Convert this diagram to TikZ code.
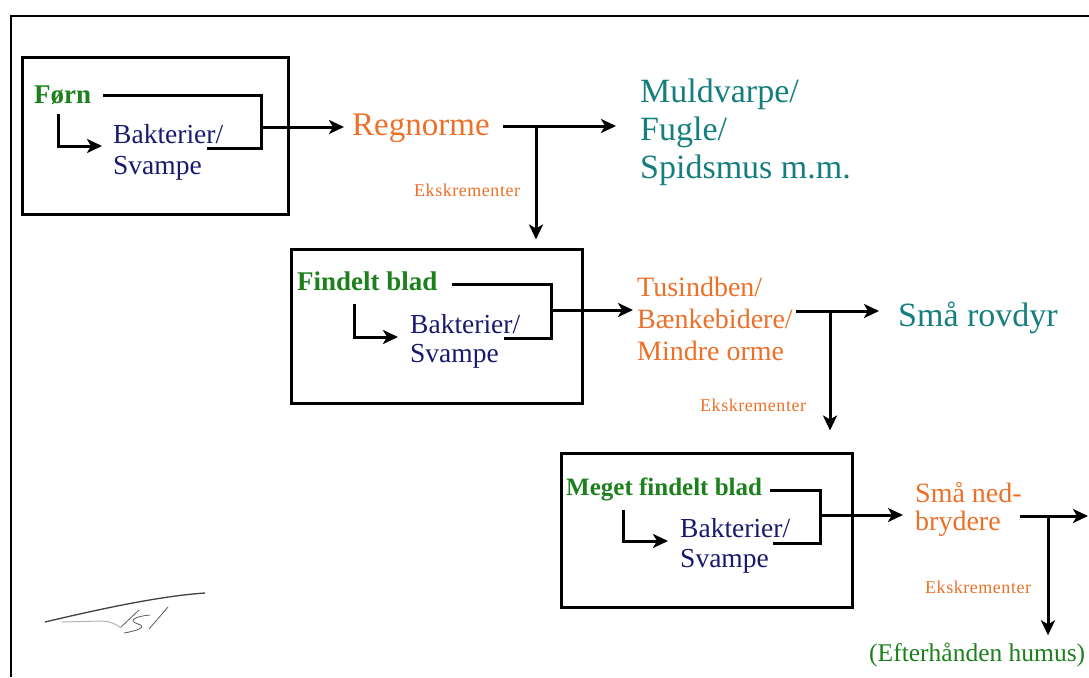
\documentclass[tikz,border=0pt]{standalone}
\usepackage{fontspec}
\setmainfont{Liberation Serif}
\usetikzlibrary{arrows.meta}
\definecolor{cgreen}{RGB}{28,128,28}
\definecolor{cnavy}{RGB}{25,25,110}
\definecolor{corange}{RGB}{236,112,40}
\definecolor{cteal}{RGB}{22,126,126}
\newcommand{\fs}[1]{\fontsize{#1}{#1}\selectfont}
\tikzset{
  lbl/.style={inner sep=0pt, anchor=base west},
  grn/.style={lbl, text=cgreen, font=\fs{27}\bfseries},
  nav/.style={lbl, text=cnavy, font=\fs{27.5}},
  org/.style={lbl, text=corange, font=\fs{28}},
  tea/.style={lbl, text=cteal, font=\fs{34}},
  eks/.style={lbl, text=corange, font=\fs{18}\addfontfeatures{LetterSpace=3}},
  ln/.style={line width=3pt},
  arr/.style={line width=3pt, -{Stealth[length=15pt,width=14pt,inset=4pt]}},
  boxst/.style={draw, line width=3pt, inner sep=0pt},
}
\begin{document}
\begin{tikzpicture}[x=1pt,y=-1pt]
\useasboundingbox (0,0) rectangle (1089,677);
% frame
\draw[line width=2pt] (11,677) -- (11,16) -- (1089,16);

% boxes
\node[boxst, minimum width=266pt, minimum height=156pt] (box1) at (155,136) {};
\node[boxst, minimum width=291pt, minimum height=154pt] (box2) at (436.5,326) {};
\node[boxst, minimum width=291pt, minimum height=154pt] (box3) at (706.5,530) {};

% texts box 1
\node[grn] (forn) at (34,103) {Førn};
\node[nav] (bak1a) at (113,143) {Bakterier/};
\node[nav] (bak1b) at (113,174) {Svampe};
% texts box 2
\node[grn] (fin) at (297,290) {Findelt blad};
\node[nav] (bak2a) at (410,333) {Bakterier/};
\node[nav] (bak2b) at (410,362) {Svampe};
% texts box 3
\node[grn, font=\fs{25}\bfseries] (meg) at (566,495) {Meget findelt blad};
\node[nav] (bak3a) at (680,537) {Bakterier/};
\node[nav] (bak3b) at (680,567) {Svampe};

% outer texts
\node[org, font=\fs{33}] (regn) at (352,135) {Regnorme};
\node[tea] (mul1) at (640,102) {Muldvarpe/};
\node[tea] (mul2) at (640,140) {Fugle/};
\node[tea] (mul3) at (640,178) {Spidsmus m.m.};
\node[eks] (eks1) at (414,196) {Ekskrementer};

\node[org] (tus1) at (637,296) {Tusindben/};
\node[org] (tus2) at (637,328) {Bænkebidere/};
\node[org] (tus3) at (637,360) {Mindre orme};
\node[tea] (smr) at (898,326) {Små rovdyr};
\node[eks] (eks2) at (700,411) {Ekskrementer};

\node[org] (sma1) at (915,502) {Små ned-};
\node[org] (sma2) at (915,530) {brydere};
\node[eks] (eks3) at (925,593) {Ekskrementer};
\node[lbl, text=cgreen, font=\fs{25.5}] (hum) at (869,661) {(Efterhånden humus)};

% ---- box 1 connectors
\coordinate (b1a) at (103,95);
\coordinate (b1b) at (261,95);
\coordinate (b1c) at (261,148);
\coordinate (b1d) at (207,148);
\draw[ln] (b1a) -- (b1b) -- (b1c) -- (b1d);
\coordinate (f1s) at (58,114);
\coordinate (f1e) at (102,146);
\draw[arr] (f1s) |- (f1e);
\coordinate (o1) at (262,127);
\draw[arr] (o1) -- ([xshift=-8pt]regn.west |- o1);

% Regnorme outputs
\coordinate (r1) at (503,126);
\coordinate (r1j) at (536,126);
\draw[arr] (r1) -- ([xshift=-24pt]mul2.north west |- r1);
\draw[arr] (r1j) -- ([yshift=8pt]r1j |- box2.north);

% ---- box 2 connectors
\coordinate (b2a) at (452,284);
\coordinate (b2b) at (551,284);
\coordinate (b2c) at (551,338);
\coordinate (b2d) at (504,338);
\draw[ln] (b2a) -- (b2b) -- (b2c) -- (b2d);
\coordinate (f2s) at (354,304);
\coordinate (f2e) at (398,337);
\draw[arr] (f2s) |- (f2e);
\coordinate (o2) at (552,310);
\draw[arr] (o2) -- ([xshift=-4pt]tus1.west |- o2);

% Tusindben outputs
\coordinate (t1) at (796,311);
\coordinate (t1j) at (830,311);
\draw[arr] (t1) -- ([xshift=-19pt]smr.west |- t1);
\draw[arr] (t1j) -- ([yshift=21pt]t1j |- box3.north);

% ---- box 3 connectors
\coordinate (b3a) at (770,490);
\coordinate (b3b) at (820,490);
\coordinate (b3c) at (820,543);
\coordinate (b3d) at (773,543);
\draw[ln] (b3a) -- (b3b) -- (b3c) -- (b3d);
\coordinate (f3s) at (623,510);
\coordinate (f3e) at (668,541);
\draw[arr] (f3s) |- (f3e);
\coordinate (o3) at (821,515);
\draw[arr] (o3) -- ([xshift=-12pt]sma1.west |- o3);

% Små nedbrydere outputs
\coordinate (s1) at (1020,516);
\coordinate (s1j) at (1048,516);
\coordinate (s1e) at (1088,516);
\draw[arr] (s1) -- (s1e);
\draw[arr] (s1j) -- ([yshift=7pt]s1j |- hum.north);

% signature
\draw[black!75, line width=1.3pt] (45,622) .. controls (100,609) and (160,596) .. (205,593);
\draw[black!30, line width=1pt] (62,622) -- (100,621) .. controls (110,621) and (116,624) .. (121,628);
\draw[black!65, line width=0.8pt] (139,610) -- (121,627);
\draw[black!65, line width=0.8pt] (150,615) .. controls (138,616) and (126,620) .. (138,624) .. controls (148,627) and (136,631) .. (124,633);
\draw[black!65, line width=0.8pt] (168,607) -- (149,629);
\end{tikzpicture}
\end{document}
